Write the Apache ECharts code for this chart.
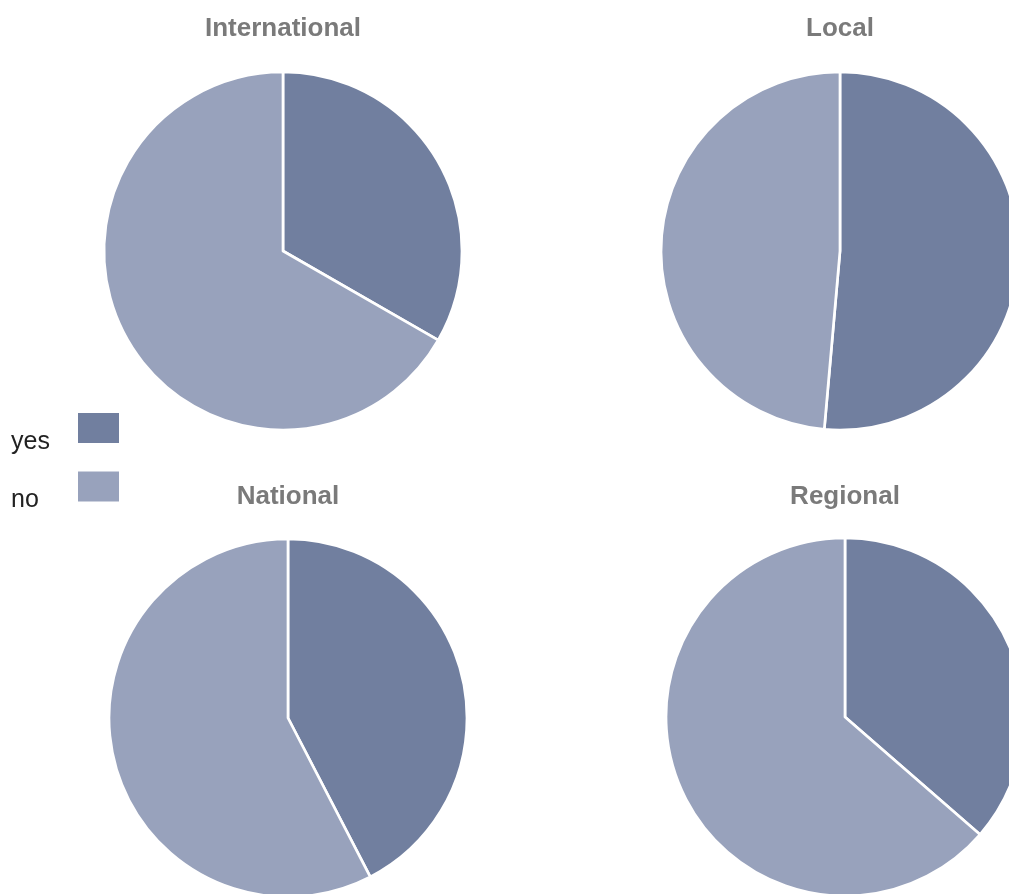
<!DOCTYPE html>
<html>
<head>
<meta charset="utf-8">
<style>
  html, body { margin: 0; padding: 0; background: #ffffff; }
  #chart { width: 1009px; height: 894px; }
</style>
<script src="https://cdn.jsdelivr.net/npm/echarts@6/dist/echarts.min.js"></script>
</head>
<body>
<div id="chart"></div>
<script>
// Share of "yes" / "no" answers by scope (percent)
const scopes = ['International', 'Local', 'National', 'Regional'];
const answers = ['yes', 'no'];
const yesValues = [33.3, 51.4, 42.4, 36.4];
const noValues = [66.7, 48.6, 57.6, 63.6];

const colors = { yes: '#717f9f', no: '#98a2bc' };

// Pie placement for the 2x2 grid
const centers = [[283, 251], [840, 251], [288, 718], [845, 717]];
const titleTops = [16, 16, 484, 484];
const radius = 179;

const chart = echarts.init(document.getElementById('chart'), null, { renderer: 'canvas' });

const titles = scopes.map((name, i) => ({
  text: name,
  left: centers[i][0],
  top: titleTops[i],
  padding: 0,
  textAlign: 'center',
  textStyle: {
    fontFamily: 'Liberation Sans, Arial, sans-serif',
    fontSize: 26,
    fontWeight: 'bold',
    color: '#7a7a7a'
  }
}));

const series = scopes.map((name, i) => ({
  type: 'pie',
  name: name,
  center: centers[i],
  radius: radius,
  startAngle: 90,
  clockwise: true,
  silent: true,
  label: { show: false },
  labelLine: { show: false },
  itemStyle: { borderColor: '#ffffff', borderWidth: 2.7 },
  data: [
    { name: answers[0], value: yesValues[i], itemStyle: { color: colors.yes } },
    { name: answers[1], value: noValues[i], itemStyle: { color: colors.no } }
  ]
}));

chart.setOption({
  animation: false,
  title: titles,
  legend: {
    data: answers,
    orient: 'vertical',
    left: 11,
    top: 411,
    padding: 0,
    align: 'right',
    itemWidth: 43,
    itemHeight: 32,
    itemGap: 15,
    icon: 'rect',
    selectedMode: false,
    formatter: '{t|{name}}',
    textStyle: {
      rich: {
        t: {
          width: 61,
          align: 'left',
          fontFamily: 'Liberation Sans, Arial, sans-serif',
          fontSize: 25,
          color: '#222222',
          padding: [28, 0, 0, 0]
        }
      }
    }
  },
  series: series
});
</script>
</body>
</html>
